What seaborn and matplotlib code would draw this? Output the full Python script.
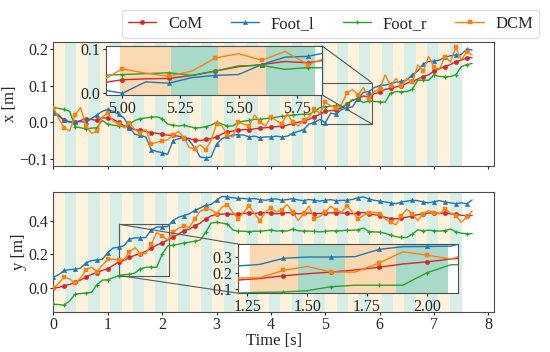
import matplotlib
matplotlib.use("Agg")
import numpy as np
import pandas as pd
import matplotlib.pyplot as plt
import seaborn as sns
from mpl_toolkits.axes_grid1.inset_locator import mark_inset

time_s = [0.0, 0.1, 0.2, 0.3, 0.4, 0.5, 0.6, 0.7, 0.8, 0.9,
          1.0, 1.1, 1.2, 1.3, 1.4, 1.5, 1.6, 1.7, 1.8, 1.9,
          2.0, 2.1, 2.2, 2.3, 2.4, 2.5, 2.6, 2.7, 2.8, 2.9,
          3.0, 3.1, 3.2, 3.3, 3.4, 3.5, 3.6, 3.7, 3.8, 3.9,
          4.0, 4.1, 4.2, 4.3, 4.4, 4.5, 4.6, 4.7, 4.8, 4.9,
          5.0, 5.1, 5.2, 5.3, 5.4, 5.5, 5.6, 5.7, 5.8, 5.9,
          6.0, 6.1, 6.2, 6.3, 6.4, 6.5, 6.6, 6.7, 6.8, 6.9,
          7.0, 7.1, 7.2, 7.3, 7.4, 7.5, 7.6, 7.7]

# x [m]
com_x = [0.028, 0.020, 0.005, 0.002, 0.000, 0.005, 0.010, 0.008, 0.005, 0.012,
         0.012, 0.008, 0.000, -0.010, -0.015, -0.020, -0.022, -0.025, -0.028, -0.030,
         -0.033, -0.035, -0.036, -0.038, -0.042, -0.045, -0.048, -0.050, -0.047, -0.045,
         -0.040, -0.032, -0.026, -0.024, -0.022, -0.020, -0.020, -0.018, -0.016, -0.015,
         -0.013, -0.012, -0.010, -0.008, -0.003, 0.000, 0.003, 0.008, 0.015, 0.022,
         0.030, 0.032, 0.033, 0.040, 0.050, 0.060, 0.065, 0.072, 0.069, 0.078,
         0.082, 0.090, 0.093, 0.097, 0.100, 0.107, 0.112, 0.118, 0.125, 0.130,
         0.140, 0.147, 0.152, 0.158, 0.166, 0.170, 0.176, 0.177]
foot_l_x = [0.026, 0.017, 0.005, 0.000, 0.000, 0.002, 0.000, 0.010, 0.020, 0.030,
            0.035, 0.030, 0.022, 0.012, -0.015, -0.033, -0.036, -0.040, -0.075, -0.080,
            -0.083, -0.088, -0.050, -0.045, -0.042, -0.050, -0.070, -0.095, -0.097, -0.095,
            -0.060, -0.045, -0.038, -0.035, -0.034, -0.035, -0.040, -0.038, -0.042, -0.040,
            -0.040, -0.038, -0.040, -0.038, -0.030, -0.025, -0.020, -0.005, 0.000, 0.008,
            -0.001, 0.025, 0.022, 0.035, 0.040, 0.042, 0.065, 0.082, 0.084, 0.095,
            0.100, 0.102, 0.105, 0.110, 0.112, 0.116, 0.130, 0.140, 0.160, 0.166,
            0.168, 0.170, 0.178, 0.182, 0.184, 0.185, 0.200, 0.198]
foot_r_x = [0.040, 0.038, 0.035, 0.030, -0.012, -0.015, -0.018, -0.016, -0.015, 0.005,
            -0.005, -0.008, -0.010, -0.010, -0.005, 0.005, 0.010, 0.012, 0.014, 0.015,
            0.010, -0.005, -0.008, -0.010, -0.008, -0.012, -0.015, -0.015, -0.012, -0.008,
            0.000, -0.005, -0.010, -0.010, 0.000, 0.003, 0.005, 0.008, 0.008, 0.010,
            0.012, 0.014, 0.016, 0.018, 0.020, 0.021, 0.022, 0.022, 0.030, 0.040,
            0.042, 0.044, 0.046, 0.040, 0.050, 0.062, 0.063, 0.054, 0.058, 0.057,
            0.056, 0.055, 0.080, 0.084, 0.084, 0.084, 0.090, 0.115, 0.115, 0.115,
            0.130, 0.125, 0.125, 0.125, 0.130, 0.152, 0.158, 0.161]
dcm_x = [0.040, 0.010, -0.015, -0.024, 0.020, 0.040, -0.010, -0.030, -0.025, 0.015,
         0.025, 0.003, -0.005, -0.015, -0.002, -0.020, -0.030, -0.020, -0.060, -0.055,
         -0.050, -0.048, -0.035, -0.025, -0.042, -0.070, -0.072, -0.062, -0.075, -0.050,
         -0.005, -0.010, -0.035, -0.040, 0.000, -0.005, -0.010, 0.020, 0.000, -0.010,
         0.015, 0.005, -0.005, 0.025, 0.000, -0.010, 0.005, 0.015, 0.035, 0.025,
         0.055, 0.045, 0.038, 0.050, 0.080, 0.090, 0.075, 0.095, 0.065, 0.085,
         0.090, 0.130, 0.100, 0.120, 0.100, 0.120, 0.110, 0.157, 0.140, 0.180,
         0.150, 0.145, 0.180, 0.165, 0.205, 0.170, 0.193, 0.184]

# y [m]
com_y = [0.000, 0.005, 0.015, 0.022, 0.035, 0.048, 0.065, 0.082, 0.092, 0.105,
         0.115, 0.135, 0.155, 0.165, 0.182, 0.195, 0.205, 0.218, 0.235, 0.255,
         0.268, 0.285, 0.300, 0.320, 0.340, 0.350, 0.368, 0.385, 0.410, 0.428,
         0.436, 0.438, 0.440, 0.437, 0.440, 0.443, 0.445, 0.442, 0.446, 0.448,
         0.443, 0.440, 0.443, 0.447, 0.445, 0.440, 0.442, 0.445, 0.440, 0.442,
         0.446, 0.445, 0.447, 0.445, 0.443, 0.440, 0.445, 0.448, 0.440, 0.435,
         0.430, 0.420, 0.412, 0.410, 0.415, 0.420, 0.428, 0.435, 0.440, 0.445,
         0.445, 0.443, 0.444, 0.440, 0.438, 0.432, 0.428, 0.430]
foot_l_y = [0.065, 0.080, 0.105, 0.110, 0.112, 0.118, 0.150, 0.163, 0.167, 0.171,
            0.210, 0.238, 0.242, 0.252, 0.290, 0.298, 0.298, 0.300, 0.345, 0.362,
            0.363, 0.365, 0.400, 0.420, 0.430, 0.440, 0.460, 0.475, 0.490, 0.495,
            0.520, 0.543, 0.540, 0.535, 0.532, 0.530, 0.528, 0.530, 0.524, 0.520,
            0.526, 0.528, 0.520, 0.524, 0.530, 0.522, 0.518, 0.525, 0.520, 0.515,
            0.520, 0.524, 0.518, 0.520, 0.520, 0.525, 0.535, 0.540, 0.528, 0.520,
            0.515, 0.510, 0.505, 0.500, 0.510, 0.515, 0.520, 0.518, 0.510, 0.505,
            0.512, 0.518, 0.510, 0.505, 0.500, 0.505, 0.500, 0.522]
foot_r_y = [-0.095, -0.097, -0.100, -0.075, -0.035, -0.032, -0.028, -0.025, 0.020, 0.048,
            0.050, 0.062, 0.075, 0.080, 0.082, 0.090, 0.115, 0.124, 0.124, 0.124,
            0.200, 0.250, 0.254, 0.260, 0.267, 0.272, 0.278, 0.285, 0.330, 0.385,
            0.390, 0.385, 0.380, 0.345, 0.337, 0.337, 0.335, 0.337, 0.337, 0.340,
            0.345, 0.338, 0.340, 0.338, 0.350, 0.340, 0.338, 0.338, 0.336, 0.333,
            0.336, 0.340, 0.340, 0.340, 0.343, 0.343, 0.345, 0.356, 0.335, 0.333,
            0.332, 0.325, 0.314, 0.305, 0.300, 0.300, 0.320, 0.345, 0.340, 0.343,
            0.340, 0.338, 0.340, 0.350, 0.335, 0.325, 0.323, 0.323]
dcm_y = [0.000, 0.030, 0.065, 0.055, 0.029, 0.060, 0.110, 0.124, 0.098, 0.135,
         0.170, 0.172, 0.168, 0.170, 0.215, 0.240, 0.205, 0.205, 0.260, 0.330,
         0.310, 0.285, 0.330, 0.355, 0.365, 0.360, 0.410, 0.455, 0.470, 0.465,
         0.440, 0.480, 0.495, 0.448, 0.410, 0.450, 0.486, 0.440, 0.400, 0.450,
         0.476, 0.450, 0.465, 0.495, 0.450, 0.400, 0.440, 0.486, 0.410, 0.425,
         0.450, 0.486, 0.460, 0.450, 0.486, 0.450, 0.410, 0.430, 0.445, 0.450,
         0.440, 0.410, 0.390, 0.375, 0.430, 0.467, 0.440, 0.400, 0.440, 0.460,
         0.445, 0.440, 0.470, 0.445, 0.430, 0.390, 0.420, 0.457]

# gait phase boundaries [s] (alternating single / double support)
phase_edges = [0.0, 0.22, 0.42, 0.64, 0.85, 1.05, 1.26, 1.46, 1.66, 1.87,
               2.09, 2.30, 2.51, 2.71, 2.92, 3.13, 3.34, 3.55, 3.76, 3.97,
               4.17, 4.38, 4.59, 4.79, 4.99, 5.21, 5.41, 5.62, 5.83, 6.04,
               6.25, 6.45, 6.66, 6.87, 7.08, 7.29, 7.52]

series_names = ["CoM", "Foot_l", "Foot_r", "DCM"]
series_colors = ["#d62728", "#1f77b4", "#2ca02c", "#ff7f0e"]
series_markers = ["o", "^", "+", "s"]

df_x = pd.DataFrame({"t": time_s, "CoM": com_x, "Foot_l": foot_l_x,
                     "Foot_r": foot_r_x, "DCM": dcm_x})
df_y = pd.DataFrame({"t": time_s, "CoM": com_y, "Foot_l": foot_l_y,
                     "Foot_r": foot_r_y, "DCM": dcm_y})

# === style ===
sns.set_style("ticks")
plt.rcParams["font.family"] = "serif"
plt.rcParams["font.serif"] = ["Liberation Serif"]
plt.rcParams["font.size"] = 12
plt.rcParams["axes.edgecolor"] = "0.3"


def draw_phases(ax, lo, hi, colors, inside_only=False):
    for i in range(len(phase_edges) - 1):
        a, b = phase_edges[i], phase_edges[i + 1]
        if inside_only and (a < lo or b > hi):
            continue
        ax.axvspan(a, b, color=colors[i % 2], lw=0, zorder=0)


def draw_series(ax, df, legend=True):
    for name, col, mk in zip(series_names, series_colors, series_markers):
        sns.lineplot(data=df, x="t", y=name, ax=ax, color=col, lw=1.0,
                     marker=mk, markersize=3.2, markevery=2,
                     markeredgewidth=0.9 if mk == "+" else 0.3,
                     markeredgecolor=col, label=name if legend else None,
                     legend=False, zorder=3)


main_cols = ["#fdf2dc", "#d8eee7"]
zoom_cols = ["#fad9b2", "#a9d9c9"]

fig = plt.figure(figsize=(5.5, 3.52), dpi=100)
ax_x = fig.add_axes([0.097, 0.528, 0.801, 0.353])
ax_y = fig.add_axes([0.097, 0.114, 0.801, 0.341])

# --- top: x ---
draw_phases(ax_x, 0, 8, main_cols)
draw_series(ax_x, df_x)
ax_x.set_xlim(0, 8.1)
ax_x.set_ylim(-0.12, 0.22)
ax_x.set_xticks(range(9))
ax_x.set_xticklabels([])
ax_x.set_yticks([-0.1, 0.0, 0.1, 0.2])
ax_x.set_xlabel("")
ax_x.set_ylabel("x [m]", fontsize=12, labelpad=0.5)

ins_x = ax_x.inset_axes([0.12, 0.573, 0.49, 0.395])
ins_x.set_facecolor("white")
draw_phases(ins_x, 4.93, 5.86, zoom_cols, inside_only=True)
draw_series(ins_x, df_x, legend=False)
ins_x.set_xlim(4.93, 5.86)
ins_x.set_ylim(-0.005, 0.108)
ins_x.set_xticks([5.0, 5.25, 5.5, 5.75])
ins_x.set_xticklabels(["5.00", "5.25", "5.50", "5.75"])
ins_x.set_yticks([0.0, 0.1])
ins_x.set_yticklabels(["0.0", "0.1"])
ins_x.set_xlabel("")
ins_x.set_ylabel("")
mark_inset(ax_x, ins_x, loc1=1, loc2=4, fc="none", ec="0.35", lw=0.8)

# --- bottom: y ---
draw_phases(ax_y, 0, 8, main_cols)
draw_series(ax_y, df_y, legend=False)
ax_y.set_xlim(0, 8.1)
ax_y.set_ylim(-0.14, 0.57)
ax_y.set_xticks(range(9))
ax_y.set_yticks([0.0, 0.2, 0.4])
ax_y.set_xlabel("Time [s]", fontsize=12, labelpad=0)
ax_y.set_ylabel("y [m]", fontsize=12, labelpad=0.5)

ins_y = ax_y.inset_axes([0.419, 0.156, 0.499, 0.409])
ins_y.set_facecolor("white")
draw_phases(ins_y, 1.21, 2.13, zoom_cols, inside_only=True)
draw_series(ins_y, df_y, legend=False)
ins_y.set_xlim(1.21, 2.13)
ins_y.set_ylim(0.075, 0.378)
ins_y.set_xticks([1.25, 1.5, 1.75, 2.0])
ins_y.set_xticklabels(["1.25", "1.50", "1.75", "2.00"])
ins_y.set_yticks([0.1, 0.2, 0.3])
ins_y.set_yticklabels(["0.1", "0.2", "0.3"])
ins_y.set_xlabel("")
ins_y.set_ylabel("")
mark_inset(ax_y, ins_y, loc1=2, loc2=3, fc="none", ec="0.35", lw=0.8)

for a in (ax_x, ax_y, ins_x, ins_y):
    a.tick_params(labelsize=11.5, length=2.5, width=0.8, pad=1.5)
    for s in a.spines.values():
        s.set_linewidth(0.8)

handles, labels = ax_x.get_legend_handles_labels()
fig.legend(handles, labels, loc="upper right", bbox_to_anchor=(0.995, 0.995),
           ncol=4, fontsize=12, handlelength=1.7, columnspacing=1.7,
           handletextpad=0.7, borderpad=0.35,
           frameon=True, edgecolor="0.85", fancybox=True)

fig.savefig("out.png", dpi=100)
